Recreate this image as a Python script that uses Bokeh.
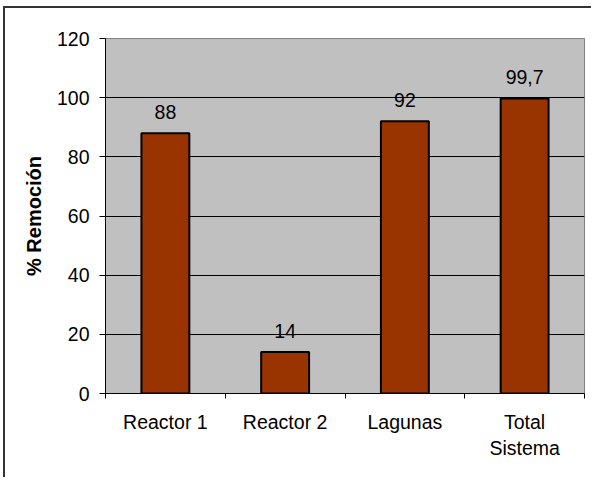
from bokeh.plotting import figure
from bokeh.models import FixedTicker, Range1d, ColumnDataSource
from bokeh.embed import file_html
from bokeh.resources import INLINE
from bokeh.core.properties import value

categories = ["Reactor 1", "Reactor 2", "Lagunas", "Total\nSistema"]
removal = [88, 14, 92, 99.7]
value_labels = ["88", "14", "92", "99,7"]
y_ticks = [0, 20, 40, 60, 80, 100, 120]
grid_ticks = [20, 40, 60, 80, 100]

FONT = "Liberation Sans"
FS = "19.5px"

xs = [i + 0.5 for i in range(len(categories))]
boundaries = [float(i) for i in range(len(categories) + 1)]
src = ColumnDataSource(dict(x=xs, top=removal, lab=value_labels))

# outer chart border: only its top and left edges fall inside the picture
chart_bg = ("linear-gradient(#333,#333) 3px 6px / 100% 2px no-repeat, "
            "linear-gradient(#333,#333) 3px 6px / 2px 100% no-repeat, #ffffff")

p = figure(frame_width=479, frame_height=355,
           x_range=Range1d(0, len(categories)), y_range=Range1d(0, 120),
           output_backend="svg", toolbar_location=None,
           min_border_left=105, min_border_top=38, min_border_right=7, min_border_bottom=84,
           styles={"background": chart_bg})

p.background_fill_color = "#C0C0C0"
p.border_fill_color = "white"
p.border_fill_alpha = 0
p.outline_line_color = "#808080"
p.outline_line_width = 1

p.vbar(x="x", top="top", width=0.4, source=src, fill_color="#993300",
       line_color="black", line_width=2)

p.text(x="x", y="top", text="lab", source=src, text_align="center",
       text_baseline="alphabetic", y_offset=-21.5, text_font=value(FONT),
       text_font_size=FS, text_color="black")

# y axis
ya = p.yaxis[0]
ya.ticker = FixedTicker(ticks=y_ticks)
ya.major_tick_out = 6
ya.major_tick_in = 0
ya.minor_tick_out = 0
ya.minor_tick_in = 0
ya.major_tick_line_color = "black"
ya.axis_line_color = "black"
ya.major_label_standoff = 10
ya.major_label_text_font = FONT
ya.major_label_text_font_size = FS
ya.major_label_text_color = "black"
ya.axis_label = "% Remoción"
ya.axis_label_text_font = FONT
ya.axis_label_text_font_style = "bold"
ya.axis_label_text_font_size = "20px"
ya.axis_label_text_color = "black"
ya.axis_label_standoff = 9

# x axis
xa = p.xaxis[0]
xa.ticker = FixedTicker(ticks=xs, minor_ticks=boundaries)
xa.major_tick_out = 0
xa.major_tick_in = 0
xa.minor_tick_out = 5
xa.minor_tick_in = 0
xa.minor_tick_line_color = "black"
xa.axis_line_color = "black"
xa.major_label_overrides = {x: c for x, c in zip(xs, categories)}
xa.major_label_standoff = 12
xa.major_label_text_font = FONT
xa.major_label_text_font_size = FS
xa.major_label_text_color = "black"

p.xgrid.visible = False
p.ygrid.ticker = FixedTicker(ticks=grid_ticks)
p.ygrid.grid_line_color = "black"
p.ygrid.grid_line_width = 1

open("out.html", "w").write(file_html(p, INLINE))
